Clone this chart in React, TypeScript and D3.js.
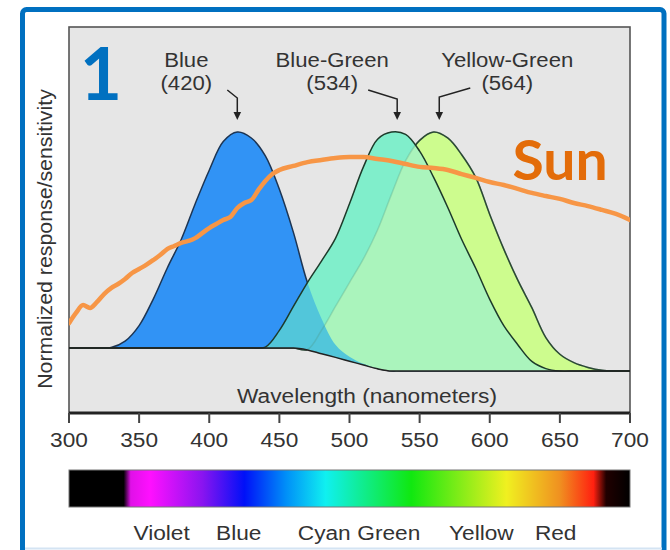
import React from "react";
import * as d3 from "d3";

// ---------- DATA ----------
const wavelengths = [300, 310, 320, 330, 340, 350, 360, 370, 380, 390, 400, 410, 420, 430, 440, 450, 460, 470, 480, 490, 500, 510, 520, 530, 540, 550, 560, 570, 580, 590, 600, 610, 620, 630, 640, 650, 660, 670, 680, 690, 700];

const baseline = [0.096, 0.096, 0.096, 0.096, 0.096, 0.096, 0.096, 0.096, 0.096, 0.096, 0.096, 0.096, 0.096, 0.096, 0.096, 0.096, 0.096, 0.088, 0.072, 0.057, 0.041, 0.025, 0.009, 0, 0, 0, 0, 0, 0, 0, 0, 0, 0, 0, 0, 0, 0, 0, 0, 0, 0];

const blueCone = [0.096, 0.096, 0.096, 0.098, 0.125, 0.19, 0.3, 0.43, 0.55, 0.7, 0.84, 0.96, 1.0, 0.975, 0.9, 0.76, 0.58, 0.37, 0.22, 0.11, 0.06, 0.03, 0.01, 0, 0, 0, 0, 0, 0, 0, 0, 0, 0, 0, 0, 0, 0, 0, 0, 0, 0];

const blueGreenCone = [0.096, 0.096, 0.096, 0.096, 0.096, 0.096, 0.096, 0.096, 0.096, 0.096, 0.096, 0.096, 0.096, 0.096, 0.1, 0.17, 0.27, 0.37, 0.46, 0.555, 0.7, 0.855, 0.97, 1.0, 0.99, 0.92, 0.81, 0.685, 0.55, 0.43, 0.3, 0.19, 0.11, 0.04, 0.01, 0, 0, 0, 0, 0, 0];

const yellowGreenCone = [0, 0, 0, 0, 0, 0, 0, 0, 0, 0, 0, 0, 0, 0, 0, 0, 0, 0.09, 0.17, 0.27, 0.37, 0.47, 0.59, 0.74, 0.88, 0.965, 1.0, 0.975, 0.905, 0.81, 0.655, 0.51, 0.38, 0.265, 0.14, 0.07, 0.035, 0.015, 0.003, 0, 0];

const sunWavelengths = [300, 305, 310, 315, 320, 325, 330, 335, 340, 345, 350, 355, 360, 365, 370, 375, 380, 385, 390, 395, 400, 405, 410, 415, 420, 425, 430, 435, 440, 445, 450, 460, 470, 480, 490, 500, 510, 520, 530, 540, 550, 560, 570, 580, 590, 600, 610, 620, 630, 640, 650, 660, 670, 680, 690, 700];
const sunValues = [0.2, 0.243, 0.276, 0.264, 0.289, 0.322, 0.347, 0.364, 0.385, 0.41, 0.427, 0.444, 0.464, 0.485, 0.51, 0.523, 0.536, 0.544, 0.556, 0.577, 0.598, 0.615, 0.632, 0.644, 0.682, 0.703, 0.715, 0.757, 0.795, 0.824, 0.841, 0.858, 0.874, 0.883, 0.891, 0.895, 0.895, 0.887, 0.879, 0.866, 0.854, 0.849, 0.841, 0.824, 0.808, 0.791, 0.778, 0.762, 0.745, 0.732, 0.72, 0.703, 0.69, 0.674, 0.657, 0.632];

const peakNames = ["Blue", "Blue-Green", "Yellow-Green"];
const peakNm = [420, 534, 564];

const tickValues = [300, 350, 400, 450, 500, 550, 600, 650, 700];

const spectrumStopNm = [300, 339, 344, 358, 395, 425, 455, 483, 544, 612, 650, 674, 683, 700];
const spectrumStopColor = ["#000000", "#000000", "#e010e8", "#ff10ff", "#8a14f0", "#0010f8", "#0090f8", "#10f0f0", "#10e810", "#f0f020", "#f09020", "#ff2010", "#200000", "#000000"];

const spectrumLabels = ["Violet", "Blue", "Cyan", "Green", "Yellow", "Red"];
const spectrumLabelNm = [366, 421, 482, 528, 594, 647];

// ---------- LAYOUT ----------
const W = 670;
const H = 550;
const PLOT_TOP = 27;
const AXIS_Y = 413;
const BAR_Y = 470;
const BAR_H = 37;
const ARIAL = "'Liberation Sans', Arial, sans-serif";
const TEXT = "#333333";
const SX = 1.08;

// label layout relative to each peak
const labelDx = [-51, -65, 68];
const arrowStartDx = [-10, -29, 31];
const arrowStartY = [90, 90, 88];
const arrowBendY = [98, 99, 97];

const x = d3.scaleLinear().domain([300, 700]).range([69, 630]);
const y = d3.scaleLinear().domain([0, 1]).range([371, 132]);

const idx = wavelengths.map((_, i) => i);
const smooth = d3.curveCatmullRom.alpha(0.5);

function areaFor(vals: number[]) {
  return d3
    .area<number>()
    .x((i) => x(wavelengths[i]))
    .y0((i) => y(baseline[i]))
    .y1((i) => y(Math.max(vals[i], baseline[i])))
    .curve(smooth)(idx) as string;
}
function lineFor(vals: number[]) {
  return d3
    .line<number>()
    .x((i) => x(wavelengths[i]))
    .y((i) => y(Math.max(vals[i], baseline[i])))
    .curve(smooth)(idx) as string;
}

function T(props: {
  x: number;
  y: number;
  children: React.ReactNode;
  size?: number;
  anchor?: string;
  sx?: number;
  fill?: string;
  weight?: string | number;
  family?: string;
  rotate?: number;
}) {
  const { x, y, children, size = 21, anchor = "middle", sx = SX, fill = TEXT, weight = "normal", family = ARIAL, rotate = 0 } = props;
  return (
    <text
      transform={`translate(${x},${y}) rotate(${rotate}) scale(${sx},1)`}
      textAnchor={anchor as any}
      fontSize={size}
      fontFamily={family}
      fill={fill}
      fontWeight={weight as any}
    >
      {children}
    </text>
  );
}

export default function App() {
  const blueArea = areaFor(blueCone);
  const bgArea = areaFor(blueGreenCone);
  const ygArea = areaFor(yellowGreenCone);
  const baseLine = d3
    .line<number>()
    .x((i) => x(wavelengths[i]))
    .y((i) => y(baseline[i]))
    .curve(d3.curveMonotoneX)(idx) as string;
  const sunLine = d3
    .line<number>()
    .x((_, i) => x(sunWavelengths[i]))
    .y((d) => y(d))
    .curve(d3.curveMonotoneX)(sunValues) as string;

  const x0 = x(300);
  const x1 = x(700);

  return (
    <svg width={W} height={H} style={{ position: "absolute", left: 0, top: 0, background: "#ffffff" }}>
      <defs>
        <clipPath id="plotClip">
          <rect x={x0} y={PLOT_TOP} width={x1 - x0} height={AXIS_Y - PLOT_TOP} />
        </clipPath>
        <clipPath id="clipYG">
          <path d={ygArea} />
        </clipPath>
        <clipPath id="clipBlue">
          <path d={blueArea} />
        </clipPath>
        <linearGradient id="spec" x1="0" x2="1" y1="0" y2="0">
          {spectrumStopNm.map((nm, i) => (
            <stop key={i} offset={(nm - 300) / 400} stopColor={spectrumStopColor[i]} />
          ))}
        </linearGradient>
      </defs>

      <rect x={0} y={0} width={W} height={H} fill="#ffffff" />
      {/* outer frame */}
      <rect x={22.5} y={9.5} width={641.5} height={560} rx={4} fill="#ffffff" stroke="#0070c0" strokeWidth={5} />
      <line x1={25} x2={662} y1={548.5} y2={548.5} stroke="#d4e4f3" strokeWidth={2} />

      {/* plot background */}
      <rect x={x0} y={PLOT_TOP} width={x1 - x0} height={AXIS_Y - PLOT_TOP} fill="#e6e6e6" stroke="#555" strokeWidth={1.6} />

      <g clipPath="url(#plotClip)">
        <path d={blueArea} fill="#3193f5" />
        <path d={lineFor(blueCone)} fill="none" stroke="#1d3553" strokeWidth={1.5} />
        <path d={ygArea} fill="#cdfc8e" />
        <path d={lineFor(yellowGreenCone)} fill="none" stroke="#1f3322" strokeWidth={1.5} />
        <path d={bgArea} fill="#80eecb" />
        <path d={bgArea} fill="#aaf4bc" clipPath="url(#clipYG)" />
        <path d={bgArea} fill="#52c6da" clipPath="url(#clipBlue)" />
        <path d={lineFor(yellowGreenCone)} fill="none" stroke="#4a8a70" strokeOpacity={0.25} strokeWidth={1.5} />
        <path d={lineFor(blueGreenCone)} fill="none" stroke="#1d3a2a" strokeWidth={1.5} />
        <path d={baseLine} fill="none" stroke="#222" strokeWidth={1.5} />
        <path d={sunLine} fill="none" stroke="#f79646" strokeWidth={4.5} strokeLinejoin="round" strokeLinecap="round" />
      </g>

      {/* axis */}
      <line x1={x0} x2={x1} y1={AXIS_Y} y2={AXIS_Y} stroke="#222" strokeWidth={3} />
      {tickValues.map((t) => (
        <g key={t}>
          <line x1={x(t)} x2={x(t)} y1={AXIS_Y} y2={AXIS_Y + 10} stroke="#444" strokeWidth={2} />
          <T x={x(t)} y={447}>{t}</T>
        </g>
      ))}
      <T x={367} y={403}>Wavelength (nanometers)</T>
      <T x={52} y={239} rotate={-90} size={20.5} sx={1.04}>Normalized response/sensitivity</T>

      {/* peak annotations */}
      {peakNm.map((nm, i) => {
        const px = x(nm);
        const lx = px + labelDx[i];
        return (
          <g key={nm}>
            <T x={lx} y={67} size={20.5}>{peakNames[i]}</T>
            <T x={lx} y={90} size={20.5}>{`(${nm})`}</T>
            <polyline
              points={`${px + arrowStartDx[i]},${arrowStartY[i]} ${px},${arrowBendY[i]} ${px},113`}
              fill="none"
              stroke="#222"
              strokeWidth={1.5}
            />
            <path d={`M${px - 3.8},112 L${px + 3.8},112 L${px},120 Z`} fill="#222" />
          </g>
        );
      })}

      {/* big annotations */}
      <T x={101} y={100} size={73} sx={1} weight="bold" family="Lato, 'Open Sans', sans-serif" fill="#0070c0">1</T>
      <T x={560} y={180} size={56} sx={1.02} weight="bold" family="Lato, 'Open Sans', sans-serif" fill="#e36c09">Sun</T>

      {/* spectrum bar */}
      <rect x={x0} y={BAR_Y} width={x1 - x0} height={BAR_H} fill="url(#spec)" stroke="#777" strokeWidth={1} />
      {spectrumLabels.map((s, i) => (
        <T key={s} x={x(spectrumLabelNm[i])} y={540}>{s}</T>
      ))}
    </svg>
  );
}
